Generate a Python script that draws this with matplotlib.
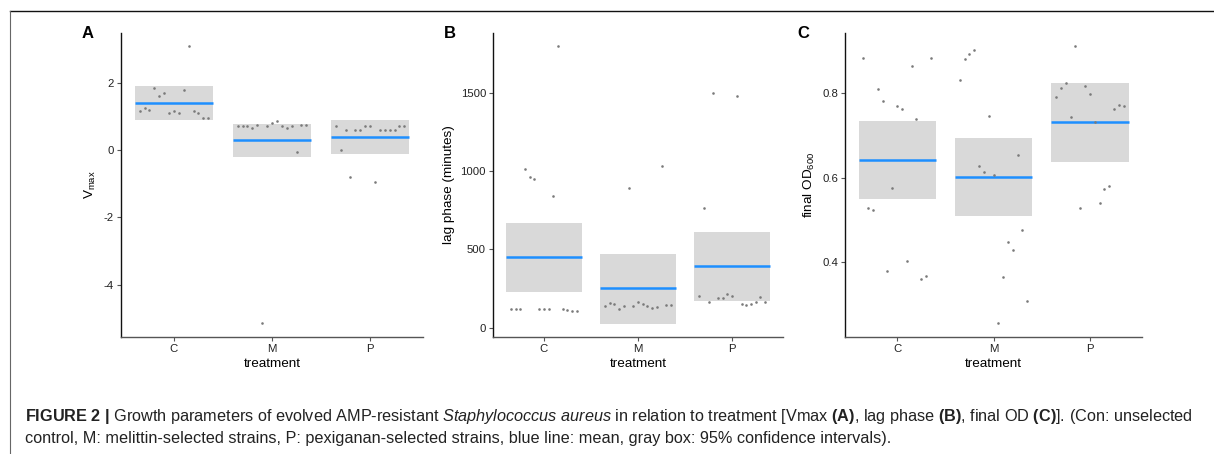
import numpy as np
import matplotlib
matplotlib.use('Agg')
import matplotlib.pyplot as plt
from matplotlib.lines import Line2D

plt.rcParams['font.family'] = ['Liberation Sans', 'DejaVu Sans']
plt.rcParams['mathtext.fontset'] = 'custom'
plt.rcParams['mathtext.rm'] = 'Liberation Sans'
plt.rcParams['mathtext.it'] = 'Liberation Sans:italic'
plt.rcParams['mathtext.bf'] = 'Liberation Sans:bold'
plt.rcParams['axes.unicode_minus'] = False

treatments = ['C', 'M', 'P']

# panel A: Vmax
vmax_C = [1.17, 1.25, 1.21, 1.85, 1.61, 1.71, 1.11, 1.16, 1.11, 1.80, 3.11, 1.16, 1.11, 0.95, 0.95]
vmax_M = [0.71, 0.71, 0.71, 0.66, 0.76, -5.14, 0.71, 0.81, 0.86, 0.71, 0.66, 0.71, -0.05, 0.76, 0.76]
vmax_P = [0.71, 0.00, 0.61, -0.79, 0.61, 0.61, 0.71, 0.71, -0.94, 0.61, 0.61, 0.61, 0.61, 0.71, 0.71]
vmax_mean = [1.42, 0.29, 0.40]
vmax_lo = [0.91, -0.20, -0.10]
vmax_hi = [1.90, 0.78, 0.90]

# panel B: lag phase (minutes)
lag_C = [121, 121, 121, 1011, 962, 947, 121, 121, 121, 838, 1798, 121, 110, 104, 104]
lag_M = [138, 157, 149, 119, 138, 892, 138, 162, 153, 138, 128, 134, 1030, 142, 142]
lag_P = [204, 762, 162, 1496, 187, 187, 217, 204, 1481, 151, 147, 151, 164, 193, 166]
lag_mean = [449, 251, 391]
lag_lo = [227, 26, 168]
lag_hi = [670, 472, 613]

# panel C: final OD600
od_C = [0.882, 0.529, 0.524, 0.810, 0.781, 0.379, 0.576, 0.769, 0.762, 0.404, 0.862, 0.738, 0.360, 0.368, 0.882]
od_M = [0.831, 0.880, 0.892, 0.900, 0.628, 0.613, 0.745, 0.607, 0.256, 0.366, 0.447, 0.429, 0.654, 0.477, 0.308]
od_P = [0.789, 0.811, 0.822, 0.742, 0.910, 0.529, 0.815, 0.798, 0.732, 0.540, 0.574, 0.581, 0.762, 0.771, 0.769]
od_mean = [0.642, 0.602, 0.730]
od_lo = [0.550, 0.510, 0.637]
od_hi = [0.734, 0.694, 0.822]

W, H = 1214, 454
fig = plt.figure(figsize=(W / 100, H / 100), dpi=100)

def px_axes(left, right, top, bottom):
    return fig.add_axes([left / W, 1 - bottom / H, (right - left) / W, (bottom - top) / H])

def panel(ax, groups, means, lo, hi, ylim, yticks, ylabel):
    for i, vals in enumerate(groups):
        xc = i + 1
        ax.fill_between([xc - 0.4, xc + 0.4], lo[i], hi[i], color='#d9d9d9', lw=0, zorder=1)
        ax.plot([xc - 0.4, xc + 0.4], [means[i], means[i]], color='#1e8fff', lw=1.8, zorder=2,
                solid_capstyle='butt')
        xs = xc + np.linspace(-0.35, 0.35, len(vals))
        ax.scatter(xs, vals, s=3.5, color='#7a7a7a', lw=0, zorder=3)
    ax.set_xlim(0.46, 3.54)
    ax.set_ylim(*ylim)
    ax.set_xticks([1, 2, 3])
    ax.set_xticklabels(treatments)
    ax.set_yticks(yticks)
    for s in ['top', 'right']:
        ax.spines[s].set_visible(False)
    ax.spines['left'].set_color('#111111')
    ax.spines['bottom'].set_color('#555555')
    ax.spines['left'].set_linewidth(1.0)
    ax.spines['bottom'].set_linewidth(1.0)
    ax.tick_params(length=3, width=0.8, color='#555555', labelsize=8.2, labelcolor='#222222', pad=2)
    ax.set_xlabel('treatment', fontsize=9.7, labelpad=3)
    ax.set_ylabel(ylabel, fontsize=9.7, labelpad=4)

axA = px_axes(121, 423, 33, 337)
panel(axA, [vmax_C, vmax_M, vmax_P], vmax_mean, vmax_lo, vmax_hi, (-5.56, 3.49), [-4, -2, 0, 2],
      r'$\mathrm{V_{max}}$')

axB = px_axes(493, 783, 33, 337)
panel(axB, [lag_C, lag_M, lag_P], lag_mean, lag_lo, lag_hi, (-60, 1881), [0, 500, 1000, 1500],
      'lag phase (minutes)')

axC = px_axes(845, 1142, 33, 337)
panel(axC, [od_C, od_M, od_P], od_mean, od_lo, od_hi, (0.224, 0.941), [0.4, 0.6, 0.8],
      r'final $\mathrm{OD_{600}}$')

# panel letters
for letter, xpx in [('A', 88), ('B', 450), ('C', 803)]:
    fig.text(xpx / W, 1 - 33 / H, letter, fontsize=12, fontweight='bold', ha='center', va='center')

# frame lines of the figure box
fig.add_artist(Line2D([10 / W, 1], [1 - 10.5 / H, 1 - 10.5 / H], color='#111111', lw=1.0))
fig.add_artist(Line2D([10 / W, 10 / W], [0, 1 - 10.5 / H], color='#666666', lw=0.8))

cap1 = (r'$\mathbf{FIGURE\ 2\ |}$ Growth parameters of evolved AMP-resistant '
        r'$\mathit{Staphylococcus\ aureus}$ in relation to treatment [Vmax $\mathbf{(A)}$, '
        r'lag phase $\mathbf{(B)}$, final OD $\mathbf{(C)}$]. (Con: unselected')
cap2 = ('control, M: melittin-selected strains, P: pexiganan-selected strains, blue line: mean, '
        'gray box: 95% confidence intervals).')
fig.text(25 / W, 1 - 417 / H, cap1, fontsize=11.7, color='#222222', va='center', ha='left')
fig.text(25 / W, 1 - 438 / H, cap2, fontsize=11.7, color='#222222', va='center', ha='left')

fig.savefig('out.png', dpi=100)
